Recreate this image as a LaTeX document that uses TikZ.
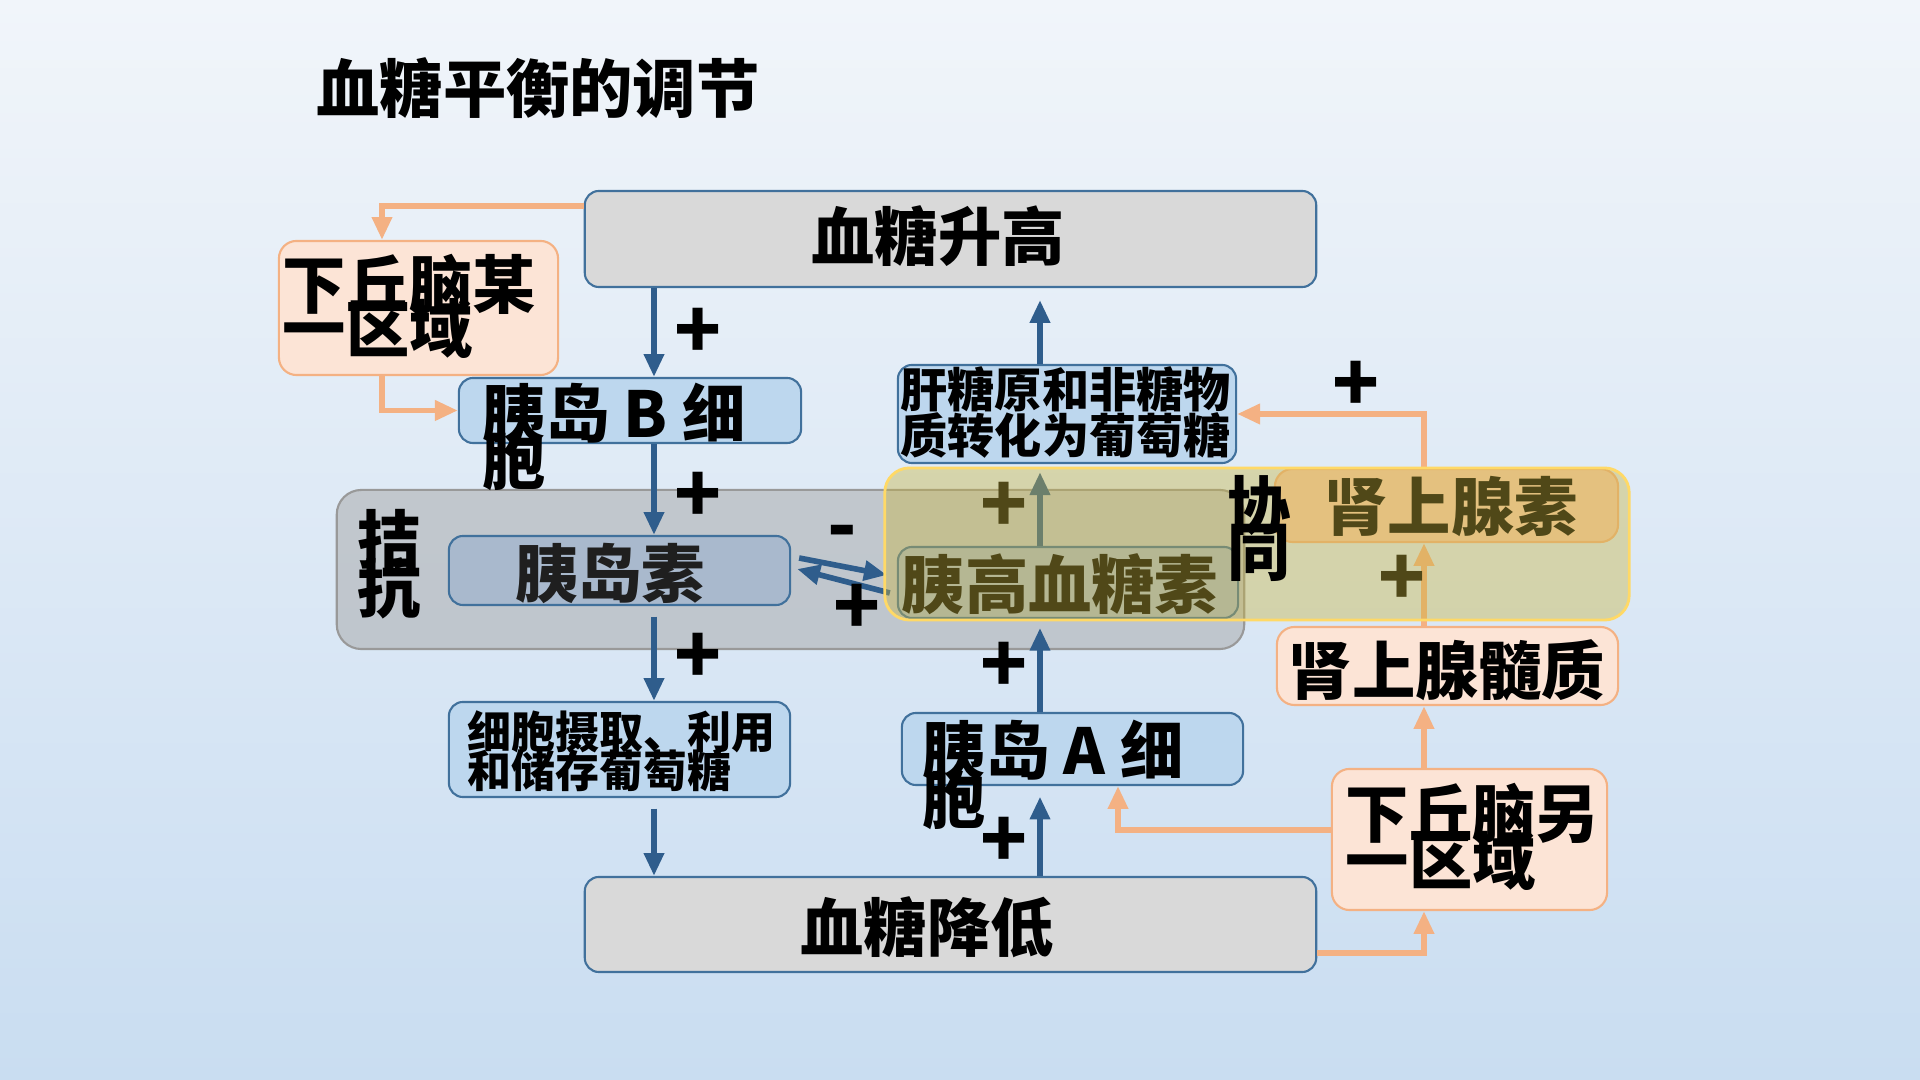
\documentclass[tikz,border=0pt]{standalone}
\usepackage{fontspec}
\setmainfont{Noto Sans CJK SC}
\usetikzlibrary{arrows.meta,calc}

\definecolor{navy}{HTML}{2F5D8C}
\definecolor{boxedge}{HTML}{41719C}
\definecolor{skyfill}{HTML}{BDD7EE}
\definecolor{greyfill}{HTML}{D9D9D9}
\definecolor{peach}{HTML}{FCE4D6}
\definecolor{orline}{HTML}{F4B183}
\definecolor{hormfill}{HTML}{A9B9CD}
\definecolor{adrfill}{HTML}{F8CBAD}
\definecolor{synfill}{HTML}{C8B43C}
\definecolor{synedge}{HTML}{FFD966}
\definecolor{bgtop}{HTML}{F1F5FA}
\definecolor{bgbot}{HTML}{C9DDF1}

\newcommand{\tightlines}[2]{\bfseries\fontsize{#1}{#2}\selectfont\lineskiplimit=-100pt\lineskip=0pt}

\tikzset{
  box/.style={draw=boxedge, line width=0.6pt, rounded corners=4pt, inner sep=0pt},
  greybox/.style={box, fill=greyfill},
  bluebox/.style={box, fill=skyfill},
  peachbox/.style={draw=orline, line width=0.6pt, fill=peach, rounded corners=5pt, inner sep=0pt},
  txt/.style={inner sep=0pt, font=\bfseries\fontsize{18}{18}\selectfont},
  sign/.style={inner sep=0pt, font=\bfseries\fontsize{22}{22}\selectfont},
  bluearrow/.style={draw=navy, line width=1.6pt, -{Triangle[length=6.5pt,width=5.5pt]}},
  orarrow/.style={draw=orline, line width=1.6pt, -{Triangle[length=6.5pt,width=5.5pt]}}
}

\begin{document}
\begin{tikzpicture}[x=0.01cm, y=-0.01cm]
\useasboundingbox (0,0) rectangle (1920,1080);
\shade[top color=bgtop, bottom color=bgbot] (0,0) rectangle (1920,1080);

\node[txt] (title) at (538,88) {血糖平衡的调节};

% antagonism
\node[draw=gray!80, line width=0.6pt, fill=black!35, fill opacity=0.5, rounded corners=7pt,
  minimum width=9.07cm, minimum height=1.59cm] (antag) at (790.5,569.5) {};
\node[txt] (antag1) at (389,539) {拮};
\node[txt] (antag2) at (389,588) {抗};

% boxes
\node[greybox, minimum width=7.31cm, minimum height=0.96cm] (high) at (950.5,239) {};
\node[txt] at (938,236) {血糖升高};

\node[peachbox, minimum width=2.79cm, minimum height=1.34cm] (hypo1) at (418.5,308) {};
\node[txt, align=left, anchor=west, font=\tightlines{18}{12.5}] at (282,306) {下丘脑某\\一区域};

\node[bluebox, minimum width=3.42cm, minimum height=0.65cm] (bcell) at (630,410.5) {};
\node[txt, align=left, anchor=west, font=\tightlines{18}{13.5}] at (482,437) {胰岛 B 细\\胞};

\node[box, fill=hormfill, minimum width=3.41cm, minimum height=0.69cm] (insulin) at (619.5,570.5) {};
\node[txt, text=black!88] at (610,573) {胰岛素};

\node[box, fill=hormfill, minimum width=3.40cm, minimum height=0.71cm] (glucagon) at (1068,582.5) {};
\node[txt] at (1060,584) {胰高血糖素};

\node[bluebox, minimum width=3.38cm, minimum height=0.98cm] (liver) at (1067,414) {};
\node[txt, align=left, anchor=west, font=\tightlines{13.4}{13.2}] at (900,412.5) {肝糖原和非糖物\\质转化为葡萄糖};

\node[bluebox, minimum width=3.41cm, minimum height=0.95cm] (uptake) at (619.5,749.5) {};
\node[txt, align=left, anchor=west, font=\tightlines{12.5}{11}] at (467,751.5) {细胞摄取、利用\\和储存葡萄糖};

\node[bluebox, minimum width=3.41cm, minimum height=0.72cm] (acell) at (1072.5,749) {};
\node[txt, align=left, anchor=west, font=\tightlines{18}{14}] at (922,775) {胰岛 A 细\\胞};

\node[draw=orline, line width=0.6pt, fill=adrfill, rounded corners=5pt, inner sep=0pt,
  minimum width=3.43cm, minimum height=0.73cm] (adrenaline) at (1446.5,505.5) {};
\node[txt] at (1451,507) {肾上腺素};

\node[peachbox, minimum width=3.41cm, minimum height=0.78cm] (medulla) at (1447.5,666) {};
\node[txt] at (1447,670) {肾上腺髓质};

\node[peachbox, minimum width=2.75cm, minimum height=1.41cm] (hypo2) at (1469.5,839.5) {};
\node[txt, align=left, anchor=west, font=\tightlines{18}{13.5}] at (1345,837) {下丘脑另\\一区域};

\node[greybox, minimum width=7.31cm, minimum height=0.95cm] (low) at (950.5,924.5) {};
\node[txt] at (927,927) {血糖降低};

% connectors
\coordinate (lcol) at (654,0);
\coordinate (rcol) at (1040,0);
\coordinate (acol) at (1424,0);
\coordinate (hcol) at (382,0);
\coordinate (ocol) at (1118,0);

\draw[bluearrow] (high.south -| lcol) -- (bcell.north -| lcol);
\draw[bluearrow] (bcell.south -| lcol) -- (insulin.north -| lcol);
\draw[bluearrow, shorten <=3pt] (insulin.south -| lcol) -- (uptake.north -| lcol);
\draw[bluearrow, shorten <=3pt] (uptake.south -| lcol) -- (low.north -| lcol);
\draw[bluearrow, shorten >=3pt] (low.north -| rcol) -- (acell.south -| rcol);
\draw[bluearrow, shorten >=2.5pt] (acell.north -| rcol) -- (glucagon.south -| rcol);
\draw[bluearrow, shorten >=2.3pt] (glucagon.north -| rcol) -- (liver.south -| rcol);
\draw[bluearrow, shorten >=3.4pt] (liver.north -| rcol) -- (high.south -| rcol);

\draw[bluearrow] ($(insulin.east)+(8,-12.5)$) -- ($(glucagon.west)+(-10,-7.5)$);
\draw[bluearrow] ($(glucagon.west)+(-7,10.5)$) -- ($(insulin.east)+(6,-1.5)$);

\draw[orarrow] (high.west |- 0,206) -| (hypo1.north -| hcol);
\draw[orarrow] (hypo1.south -| hcol) |- (bcell.west);
\draw[orarrow] (adrenaline.north -| acol) |- (liver.east);
\draw[orarrow] (medulla.north -| acol) -- (adrenaline.south -| acol);
\draw[orarrow] (hypo2.north -| acol) -- (medulla.south -| acol);
\draw[orarrow] (hypo2.west |- 0,830) -| (acell.south -| ocol);
\draw[orarrow] (low.east |- 0,953) -| (hypo2.south -| acol);

% signs
\node[sign] (s1) at (698,333) {+};
\node[sign] (s2) at (698,497) {+};
\node[sign] (s3) at (698,658) {+};
\node[sign] (s4) at (1004,842) {+};
\node[sign] (s5) at (1004,667) {+};
\node[sign] (s6) at (1004,507) {+};
\node[sign] (s7) at (1356,386) {+};
\node[sign] (s8) at (1402,580) {+};
\node[sign] (s9) at (842,539) {-};
\node[sign] (s10) at (857,609) {+};

% synergy
\node[draw=synedge, line width=0.8pt, fill=synfill, fill opacity=0.4, rounded corners=7pt,
  minimum width=7.44cm, minimum height=1.52cm] (synergy) at (1257,544) {};
\node[txt] (syn1) at (1259,505) {协};
\node[txt] (syn2) at (1259,553) {同};
\end{tikzpicture}
\end{document}
